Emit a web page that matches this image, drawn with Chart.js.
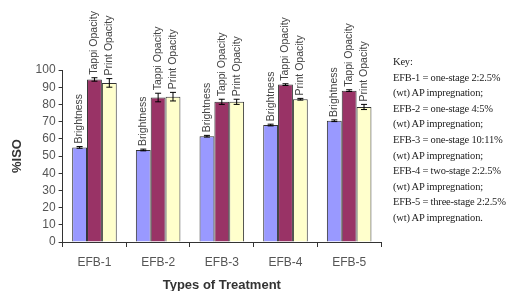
<!DOCTYPE html>
<html>
<head>
<meta charset="utf-8">
<script src="https://cdn.jsdelivr.net/npm/chart.js@4/dist/chart.umd.min.js"></script>
<style>
  body { margin: 0; background: #fff; }
  #box { position: relative; width: 521px; height: 291px; }
  #key {
    position: absolute; left: 393px; top: 54px;
    font-family: "Liberation Serif", "Times New Roman", serif;
    font-size: 10.5px; line-height: 15.6px; color: #222; white-space: nowrap;
    letter-spacing: -0.2px;
  }
</style>
</head>
<body>
<div id="box">
  <canvas id="chart"></canvas>
  <div id="key">
    Key:<br>
    EFB-1 = one-stage 2:2.5%<br>
    (wt) AP impregnation;<br>
    EFB-2 = one-stage 4:5%<br>
    (wt) AP impregnation;<br>
    EFB-3 = one-stage 10:11%<br>
    (wt) AP impregnation;<br>
    EFB-4 = two-stage 2:2.5%<br>
    (wt) AP impregnation;<br>
    EFB-5 = three-stage 2:2.5%<br>
    (wt) AP impregnation.
  </div>
</div>
<script>
// categories and series
var treatments = ['EFB-1', 'EFB-2', 'EFB-3', 'EFB-4', 'EFB-5'];
var seriesNames = ['Brightness', 'Tappi Opacity', 'Print Opacity'];
var brightness = [55, 53.5, 61.5, 68, 70.5];
var tappiOpacity = [94.5, 84, 81.5, 91.5, 88];
var printOpacity = [92.5, 84.5, 81.5, 83, 78.5];
var brightnessErr = [0.5, 0.5, 0.5, 0.5, 0.5];
var tappiErr = [1, 2.5, 1.5, 0.5, 0.5];
var printErr = [2.5, 2.5, 1.5, 0.5, 1.5];
var yTicks = [0, 10, 20, 30, 40, 50, 60, 70, 80, 90, 100];

var colours = {
    brightness: '#9999ff',
    tappi: '#993366',
    print: '#ffffcc',
    outline: '#333333',
    text: '#555555'
};

var errs = [brightnessErr, tappiErr, printErr];

// error bars + vertical labels over every bar
var barExtras = {
    id: 'barExtras',
    afterDatasetsDraw: function (chart) {
        var ctx = chart.ctx;
        var y = chart.scales.y;
        chart.data.datasets.forEach(function (ds, di) {
            var meta = chart.getDatasetMeta(di);
            meta.data.forEach(function (bar, i) {
                var v = ds.data[i];
                var e = errs[di][i];
                var top = y.getPixelForValue(v + e);
                var bot = y.getPixelForValue(v - e);
                ctx.save();
                ctx.strokeStyle = '#000';
                ctx.lineWidth = 1;
                ctx.beginPath();
                ctx.moveTo(bar.x, top); ctx.lineTo(bar.x, bot);
                ctx.moveTo(bar.x - 3, top); ctx.lineTo(bar.x + 3, top);
                ctx.moveTo(bar.x - 3, bot); ctx.lineTo(bar.x + 3, bot);
                ctx.stroke();
                // series name written upwards above the bar
                ctx.translate(bar.x, top - 3);
                ctx.rotate(-Math.PI / 2);
                ctx.fillStyle = '#444';
                ctx.font = '10.5px "Liberation Sans", Arial, sans-serif';
                ctx.textAlign = 'left';
                ctx.textBaseline = 'middle';
                ctx.fillText(ds.label, 0, 0);
                ctx.restore();
            });
        });
    }
};

var data = {
    labels: treatments,
    datasets: [
        { label: seriesNames[0], data: brightness, backgroundColor: colours.brightness },
        { label: seriesNames[1], data: tappiOpacity, backgroundColor: colours.tappi },
        { label: seriesNames[2], data: printOpacity, backgroundColor: colours.print }
    ]
};
data.datasets.forEach(function (d) {
    d.borderColor = colours.outline;
    d.borderWidth = 1;
    d.barPercentage = 1.0;
    d.categoryPercentage = 0.7;
});

var options = {
    responsive: true,
    maintainAspectRatio: false,
    animation: false,
    layout: { padding: { left: 6, right: 140, top: 70, bottom: -2 } },
    plugins: { legend: { display: false }, tooltip: { enabled: false } },
    scales: {
        x: {
            grid: { display: true, drawOnChartArea: false, offset: true, color: '#333', tickLength: 5 },
            border: { color: '#333', width: 1 },
            ticks: { color: colours.text, font: { family: 'Liberation Sans, Arial', size: 12 }, padding: 8 },
            title: { display: true, text: 'Types of Treatment', color: '#333',
                     font: { family: 'Liberation Sans, Arial', size: 13, weight: 'bold' }, padding: { top: 0, bottom: 0 } }
        },
        y: {
            min: 0, max: 100,
            afterBuildTicks: function (axis) {
                axis.ticks = yTicks.map(function (v) { return { value: v }; });
            },
            grid: { display: true, drawOnChartArea: false, color: '#333', tickLength: 4 },
            border: { color: '#333', width: 1 },
            ticks: { color: colours.text, font: { family: 'Liberation Sans, Arial', size: 12 }, padding: 3, autoSkip: false },
            title: { display: true, text: '%ISO', color: '#333',
                     font: { family: 'Liberation Sans, Arial', size: 13, weight: 'bold' }, padding: { top: 4, bottom: 7 } }
        }
    }
};

var ctx = document.getElementById('chart').getContext('2d');
var myChart = new Chart(ctx, {
    type: 'bar',
    data: data,
    options: options,
    plugins: [barExtras]
});
</script>
</body>
</html>
